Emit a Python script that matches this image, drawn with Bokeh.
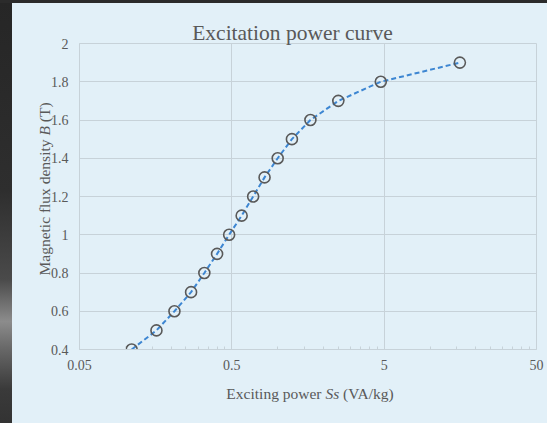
import math
from bokeh.plotting import figure
from bokeh.models import Label, FixedTicker, CustomJSTickFormatter, Range1d
from bokeh.layouts import column
from bokeh.embed import file_html
from bokeh.resources import INLINE

# ---- data ----
exciting_power = [0.11, 0.16, 0.21, 0.27, 0.33, 0.40, 0.48, 0.58, 0.69, 0.82,
                  1.0, 1.24, 1.64, 2.5, 4.75, 15.7]
flux_density = [0.4, 0.5, 0.6, 0.7, 0.8, 0.9, 1.0, 1.1, 1.2, 1.3,
                1.4, 1.5, 1.6, 1.7, 1.8, 1.9]
x_ticks = [0.05, 0.5, 5, 50]
y_ticks = [0.4, 0.6, 0.8, 1.0, 1.2, 1.4, 1.6, 1.8, 2.0]
title_text = "Excitation power curve"

PANEL = "#e2f0f8"
GRID = "#c7d2d9"
TEXT = "#595959"
FONT = "Liberation Serif"

p = figure(frame_width=462, frame_height=322, x_axis_type="log",
           x_range=Range1d(0.05, 50), y_range=Range1d(0.4, 2.0),
           output_backend="svg", toolbar_location=None, title=None,
           min_border_left=66, min_border_right=7,
           min_border_top=43, min_border_bottom=58)
p.margin = (0, 0, 0, -4)
p.background_fill_color = PANEL
p.border_fill_color = None
p.outline_line_color = GRID

minor = [m * k for m in (0.05, 0.5, 5) for k in range(2, 10)]
p.xaxis.ticker = FixedTicker(ticks=x_ticks, minor_ticks=minor)
p.yaxis.ticker = FixedTicker(ticks=y_ticks)
fmt = "return String(Math.round(tick*1000)/1000);"
p.xaxis.formatter = CustomJSTickFormatter(code=fmt)
p.yaxis.formatter = CustomJSTickFormatter(code=fmt)

for ax in (p.xaxis[0], p.yaxis[0]):
    ax.axis_line_color = GRID
    ax.axis_line_width = 1
    ax.major_tick_in = 0
    ax.major_tick_out = 0
    ax.major_label_text_font = FONT
    ax.major_label_text_font_size = "14px"
    ax.major_label_text_color = TEXT
p.xaxis.minor_tick_in = 3
p.xaxis.minor_tick_out = 0
p.xaxis.minor_tick_line_color = GRID
p.xaxis.major_label_standoff = 10
p.yaxis.minor_tick_in = 0
p.yaxis.minor_tick_out = 0
p.yaxis.major_label_standoff = 11

p.xgrid.grid_line_color = GRID
p.ygrid.grid_line_color = GRID

p.line(exciting_power, flux_density, line_color="#3d86d2", line_width=2,
       line_dash="5 3")
p.scatter(exciting_power, flux_density, marker="circle", size=11,
          fill_color=None, line_color=TEXT, line_width=1.6)


def lab(side, text, x, y, xo, yo, size="15.5px", align="left",
        style="normal", angle=0.0):
    p.add_layout(Label(x=x, y=y, x_offset=xo, y_offset=yo, text=text,
                       text_font=FONT, text_font_size=size,
                       text_font_style=style, text_color=TEXT,
                       text_align=align, text_baseline="alphabetic",
                       text_line_height=0.05, angle=angle), side)


# title
lab("above", title_text, 0.05, 2.0, 213, 10.7, size="21.5px", align="center")

# x axis label: "Exciting power Ss (VA/kg)"
lab("below", "Exciting power", 0.05, 0.4, 242, -44, align="right")
lab("below", "Ss", 0.05, 0.4, 246, -44, style="italic")
lab("below", "(VA/kg)", 0.05, 0.4, 263.6, -44)

# y axis label: "Magnetic flux density B (T)" (rotated pieces)
a = math.pi / 2
lab("left", "Magnetic flux density", 0.05, 0.4, -35.5, 210, align="right", angle=a)
lab("left", "B", 0.05, 0.4, -35.5, 214, style="italic", angle=a)
lab("left", "(T)", 0.05, 0.4, -35.5, 227.3, angle=a)

bg = ("linear-gradient(#2b2b2b, #2b2b2b) top left / 100% 3px no-repeat, "
      "linear-gradient(180deg, #262626 0%, #2e2e2e 45%, #4a4a4a 66%, "
      "#8c8c8c 76%, #6a6a6a 82%, #3a3a3a 92%, #333333 100%) "
      "top left / 12px 100% no-repeat, " + PANEL)
layout = column(p, width=547, height=423,
                styles={"overflow": "hidden", "background": bg})

open("out.html", "w").write(file_html(layout, INLINE))
